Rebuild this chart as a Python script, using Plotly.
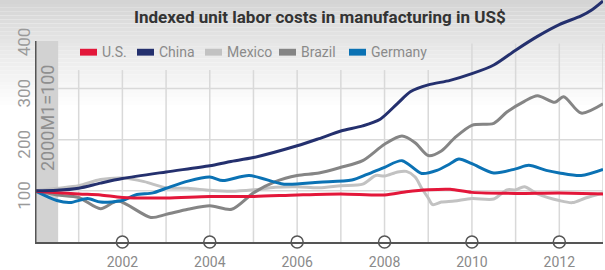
import plotly.graph_objects as go

# ---------------- data ----------------
series_names = ["U.S.", "China", "Mexico", "Brazil", "Germany"]
series_colors = ["#e3173a", "#24306e", "#c2c2c2", "#858585", "#0b72b4"]

us_x = [2000, 2001, 2001.5, 2002, 2003, 2004, 2005, 2006, 2007, 2008, 2008.5, 2009, 2009.5, 2010, 2011, 2012, 2013]
us_y = [99, 94, 92, 87, 86, 89, 89, 92, 94, 92, 98, 102, 103, 97, 95, 96, 94]

china_x = [2000, 2000.5, 2001, 2001.5, 2002, 2003, 2004, 2004.45, 2005, 2006, 2006.5, 2007, 2007.5, 2007.9,
           2008.3, 2008.6, 2009, 2009.5, 2010, 2010.5, 2011, 2011.5, 2012, 2012.5, 2012.75, 2013]
china_y = [100, 101, 105, 115, 124, 137, 149, 157, 165, 188, 202, 217, 227, 240,
           271, 294, 307, 316, 329, 346, 375, 402, 425, 442, 454, 471]

mexico_x = [2000, 2000.5, 2001, 2001.5, 2002, 2002.5, 2003, 2003.5, 2004, 2004.5, 2005, 2005.5, 2006, 2006.5,
            2007, 2007.5, 2007.8, 2008, 2008.3, 2008.5, 2008.7, 2008.85, 2009, 2009.1, 2009.3, 2009.6,
            2010, 2010.5, 2010.8, 2011, 2011.2, 2011.5, 2012, 2012.3, 2012.6, 2013]
mexico_y = [100, 105, 110, 122, 125, 118, 106, 105, 101, 99, 102, 107, 108, 106,
            110, 113, 130, 129, 137, 138, 127, 105, 86, 73, 78, 80,
            85, 84, 102, 102, 108, 94, 81, 77, 86, 96]

brazil_x = [2000, 2000.5, 2001, 2001.5, 2001.9, 2002.65, 2003, 2003.5, 2004, 2004.5, 2005, 2005.5, 2006,
            2006.5, 2007, 2007.5, 2008, 2008.4, 2008.7, 2009, 2009.3, 2009.6, 2010, 2010.5, 2010.8,
            2011.2, 2011.5, 2011.9, 2012.1, 2012.5, 2013]
brazil_y = [100, 92, 87, 65, 80, 48, 54, 64, 71, 64, 96, 118, 130,
            135, 146, 159, 191, 207, 194, 169, 178, 203, 228, 232, 254,
            275, 286, 273, 284, 252, 270]

germany_x = [2000, 2000.5, 2000.8, 2001.2, 2001.5, 2002, 2002.3, 2002.7, 2003, 2003.5, 2004, 2004.3, 2004.9,
             2005.7, 2006.5, 2007.25, 2007.6, 2008, 2008.4, 2008.85, 2009.2, 2009.5, 2009.7, 2010, 2010.5,
             2011, 2011.3, 2011.7, 2012, 2012.5, 2013]
germany_y = [100, 81, 77, 85, 78, 81, 92, 96, 105, 119, 127, 120, 130,
             113, 117, 121, 132, 146, 159, 134, 140, 153, 162, 153, 135,
             143, 150, 140, 135, 130, 142]

tick_years = [2002, 2004, 2006, 2008, 2010, 2012]
y_tick_vals = [100, 200, 300, 400]
grid_years = list(range(2001, 2014))
grid_values = [100, 200, 300]
title_text = "Indexed unit labor costs in manufacturing in US$"
base_text = "2000M1=100"

# ---------------- figure ----------------
FONT = "Roboto, Liberation Sans, sans-serif"
W, H = 605, 270
ML, MR, MT, MB = 35, 2, 0, 22
PW, PH = W - ML - MR, H - MT - MB

def px_x(p):
    return (p - ML) / PW

def px_y(p):
    return 1 - (p - MT) / PH

fig = go.Figure()

shapes = []
# background gradient (top gray -> white)
nb = 28
for i in range(nb):
    p0 = i * 4
    p1 = p0 + 4
    g = int(212 + (255 - 212) * (i / (nb - 1)) ** 0.9)
    shapes.append(dict(type="rect", xref="paper", yref="paper", x0=px_x(0), x1=px_x(W), y0=px_y(p1),
                       y1=px_y(p0), fillcolor=f"rgb({g},{g},{g})", line=dict(width=0), layer="below"))

# gray band at the base period
shapes.append(dict(type="rect", xref="x", yref="y", x0=2000, x1=2000.53, y0=0, y1=393,
                   fillcolor="#d2d2d2", line=dict(width=0), layer="below"))
# grid
for yr in grid_years:
    top = 336 if yr <= 2009 else 388
    shapes.append(dict(type="line", xref="x", yref="y", x0=yr, x1=yr, y0=0, y1=top,
                       line=dict(color="#d9d9d9", width=1.5), layer="below"))
for v in grid_values:
    shapes.append(dict(type="line", xref="x", yref="y", x0=2000.53, x1=2013, y0=v, y1=v,
                       line=dict(color="#d9d9d9", width=1.5), layer="below"))
# left axis line
shapes.append(dict(type="line", xref="x", yref="y", x0=2000, x1=2000, y0=0, y1=393,
                   line=dict(color="#555555", width=3)))

xs = {"U.S.": us_x, "China": china_x, "Mexico": mexico_x, "Brazil": brazil_x, "Germany": germany_x}
ys = {"U.S.": us_y, "China": china_y, "Mexico": mexico_y, "Brazil": brazil_y, "Germany": germany_y}
col = dict(zip(series_names, series_colors))

for name in ["Mexico", "Brazil", "Germany", "U.S.", "China"]:
    fig.add_trace(go.Scatter(x=xs[name], y=ys[name], mode="lines", name=name,
                             line=dict(color=col[name], width=3, shape="spline", smoothing=0.8),
                             cliponaxis=False, showlegend=False, hoverinfo="skip"))

# axis circles
fig.add_trace(go.Scatter(x=tick_years, y=[0] * len(tick_years), mode="markers",
                         marker=dict(size=12, color="white", line=dict(color="#555555", width=1.5)),
                         cliponaxis=False, showlegend=False, hoverinfo="skip"))

annotations = []
# title
annotations.append(dict(text=f"<b>{title_text}</b>", xref="paper", yref="paper", x=px_x(320), y=px_y(17),
                        xanchor="center", yanchor="middle", showarrow=False,
                        font=dict(family=FONT, size=17, color="#333333")))
# base text
annotations.append(dict(text=base_text, xref="paper", yref="paper", x=px_x(47), y=px_y(121),
                        xanchor="center", yanchor="middle", showarrow=False, textangle=-90,
                        font=dict(family=FONT, size=18, color="#8f8f8f")))
# y tick labels
for v in y_tick_vals:
    annotations.append(dict(text=str(v), xref="paper", yref="y", x=px_x(24), y=v, yshift=-5,
                            xanchor="center", yanchor="middle", showarrow=False, textangle=-90,
                            font=dict(family=FONT, size=17, color="#9a9a9a")))
# custom legend
leg_sw = [80, 137, 205, 279, 349]
for name, sx in zip(series_names, leg_sw):
    shapes.append(dict(type="rect", xref="paper", yref="paper", x0=px_x(sx), x1=px_x(sx + 17),
                       y0=px_y(57), y1=px_y(50), fillcolor=col[name], line=dict(width=0)))
    annotations.append(dict(text=name, xref="paper", yref="paper", x=px_x(sx + 20), y=px_y(53.5),
                            xanchor="left", yanchor="middle", showarrow=False,
                            font=dict(family=FONT, size=14, color="#8a8a8a")))

fig.update_layout(
    width=W, height=H, margin=dict(l=ML, r=MR, t=MT, b=MB),
    paper_bgcolor="white", plot_bgcolor="rgba(0,0,0,0)",
    shapes=shapes, annotations=annotations,
    xaxis=dict(range=[2000, 2013], showgrid=False, zeroline=False, showline=True, linecolor="#555555",
               linewidth=2, tickvals=tick_years, ticks="", ticklabelstandoff=6,
               tickfont=dict(family=FONT, size=14, color="#8a8a8a")),
    yaxis=dict(range=[0, 473], showgrid=False, zeroline=False, showticklabels=False, showline=False),
)

fig.write_html("out.html", config={"displayModeBar": False},
               post_script="document.body.style.margin='0';document.body.style.overflow='hidden';")
